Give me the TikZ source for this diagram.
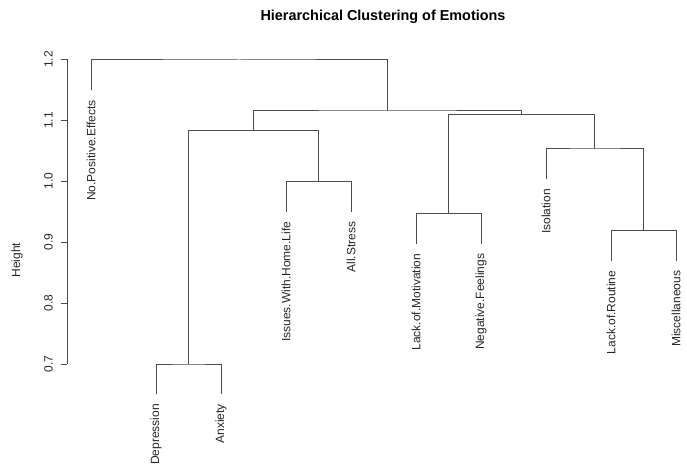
\documentclass[tikz,border=0pt]{standalone}
\usepackage{fontspec}
\setmainfont{Liberation Sans}
\usepackage{tikz}
\usetikzlibrary{calc}

\tikzset{
  branch/.style={line width=1pt, black!70},
  leaflabel/.style={rotate=90, anchor=east, inner sep=0pt, font=\fontsize{12}{14}\selectfont, text=black!85},
  ticklabel/.style={rotate=90, inner sep=0pt, font=\fontsize{12}{14}\selectfont, text=black!85}
}

\begin{document}
\begin{tikzpicture}[x=1pt, y=-1pt]
				\useasboundingbox (0,0) rectangle (687,465);
				
				% merge points
				\coordinate (depanx) at (188.5,364);
				\coordinate (homestress) at (318.5,181.5);
				\coordinate (leftgroup) at (253.5,130.3);
				\coordinate (motfeel) at (448.5,213.7);
				\coordinate (routmisc) at (643.5,230.7);
				\coordinate (isogroup) at (594.75,149);
				\coordinate (rightgroup) at (521.6,114.7);
				\coordinate (inner) at (387.6,111);
				\coordinate (root) at (239.3,60);
				
				% leaf ends
				\coordinate (nopos) at (91,90);
				\coordinate (depr) at (156,394);
				\coordinate (anx) at (221,394);
				\coordinate (home) at (286,211.5);
				\coordinate (stress) at (351,211.5);
				\coordinate (motiv) at (416,243.7);
				\coordinate (feel) at (481,243.7);
				\coordinate (iso) at (546,179);
				\coordinate (rout) at (611,260.7);
				\coordinate (misc) at (676,260.7);
				
				\draw [branch] (depr) |- (depanx) -| (anx);
				\draw [branch] (home) |- (homestress) -| (stress);
				\draw [branch] (depanx) |- (leftgroup) -| (homestress);
				\draw [branch] (motiv) |- (motfeel) -| (feel);
				\draw [branch] (rout) |- (routmisc) -| (misc);
				\draw [branch] (iso) |- (isogroup) -| (routmisc);
				\draw [branch] (motfeel) |- (rightgroup) -| (isogroup);
				\draw [branch] (leftgroup) |- (inner) -| (rightgroup);
				\draw [branch] (nopos) |- (root) -| (inner);
				
				\node [leaflabel] (noposlab) at ($(nopos)+(0,10)$) {No.Positive.Effects};
				\node [leaflabel] (deprlab) at ($(depr)+(0,10)$) {Depression};
				\node [leaflabel] (anxlab) at ($(anx)+(0,10)$) {Anxiety};
				\node [leaflabel] (homelab) at ($(home)+(0,10)$) {Issues.With.Home.Life};
				\node [leaflabel] (stresslab) at ($(stress)+(0,10)$) {All.Stress};
				\node [leaflabel] (motivlab) at ($(motiv)+(0,10)$) {Lack.of.Motivation};
				\node [leaflabel] (feellab) at ($(feel)+(0,10)$) {Negative.Feelings};
				\node [leaflabel] (isolab) at ($(iso)+(0,10)$) {Isolation};
				\node [leaflabel] (routlab) at ($(rout)+(0,10)$) {Lack.of.Routine};
				\node [leaflabel] (misclab) at ($(misc)+(0,10)$) {Miscellaneous};
				
				% axis
				\draw [branch] (67,59.5) -- (67,364);
				\draw [branch] (60.5,59.5) -- (67,59.5);
				\draw [branch] (60.5,120.4) -- (67,120.4);
				\draw [branch] (60.5,181.3) -- (67,181.3);
				\draw [branch] (60.5,242.2) -- (67,242.2);
				\draw [branch] (60.5,303.1) -- (67,303.1);
				\draw [branch] (60.5,364) -- (67,364);
				
				\node [ticklabel] (t12) at (48.5,59.5) {1.2};
				\node [ticklabel] (t11) at (48.5,120.4) {1.1};
				\node [ticklabel] (t10) at (48.5,181.3) {1.0};
				\node [ticklabel] (t09) at (48.5,242.2) {0.9};
				\node [ticklabel] (t08) at (48.5,303.1) {0.8};
				\node [ticklabel] (t07) at (48.5,364) {0.7};
				
				\node [ticklabel] (ylab) at (17,260) {Height};
				\node [font=\fontsize{14.4}{17}\selectfont\bfseries] (title) at (383,16.5) {Hierarchical Clustering of Emotions};
\end{tikzpicture}
\end{document}
